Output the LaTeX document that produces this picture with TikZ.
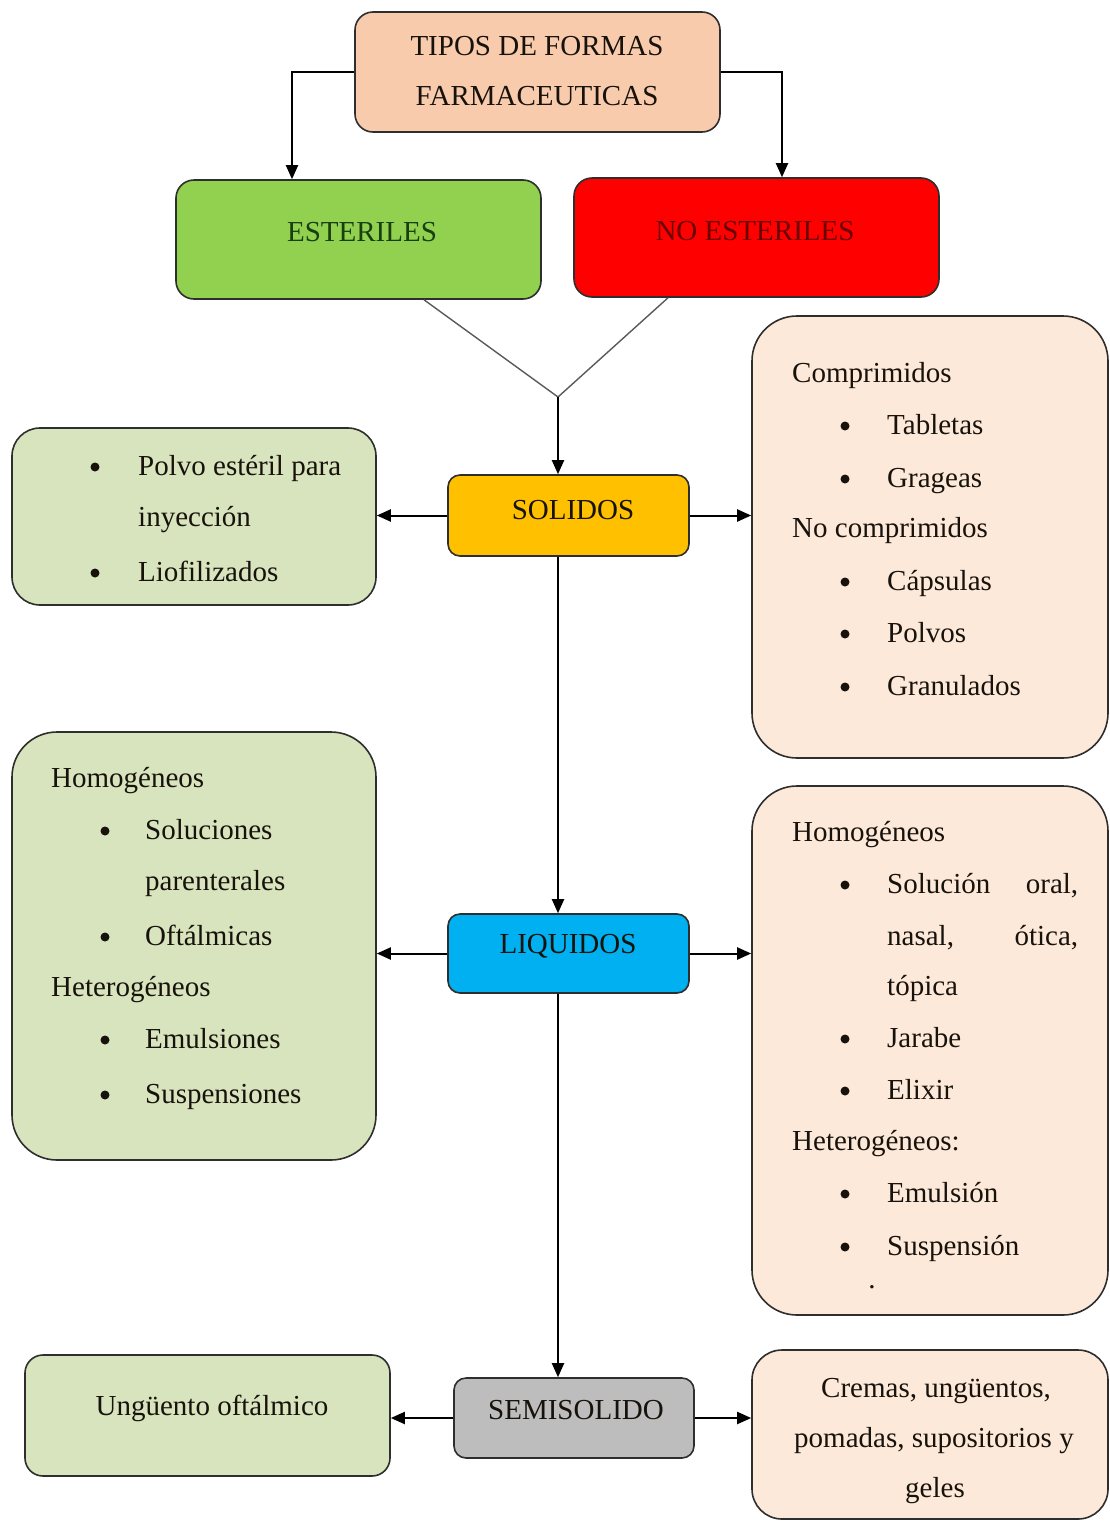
\documentclass[tikz,border=0pt]{standalone}
\usepackage{fontspec}
\setmainfont{Liberation Serif}
\usetikzlibrary{arrows.meta}
\definecolor{peach}{HTML}{F8CBAD}
\definecolor{grn}{HTML}{92D050}
\definecolor{rd}{HTML}{FF0000}
\definecolor{sol}{HTML}{FFC000}
\definecolor{liq}{HTML}{00B0F0}
\definecolor{semi}{HTML}{BDBDBD}
\definecolor{lgreen}{HTML}{D7E4BD}
\definecolor{lpeach}{HTML}{FDE9D9}
\definecolor{bord}{HTML}{2E2E2E}
\definecolor{ink}{HTML}{18120C}
\definecolor{dgreen}{HTML}{173F10}
\definecolor{dred}{HTML}{6A0000}
\newcommand\myfs{\fontsize{29}{50}\selectfont}
\begin{document}
\begin{tikzpicture}[x=1pt,y=-1pt,
  box/.style={draw=bord, line width=1.6pt, inner sep=0pt},
  txt/.style={inner sep=0pt, anchor=base west, font=\myfs, text=ink},
  ctxt/.style={inner sep=0pt, anchor=base, font=\myfs, text=ink},
  lbl/.style={inner sep=0pt, font=\myfs, text=ink, align=center},
  bul/.style={circle, fill=ink, inner sep=0pt, minimum size=9pt, yshift=8pt},
  arr/.style={line width=2pt, -{Triangle[length=14pt,width=12pt]}},
  vline/.style={line width=1.4pt, draw=black!65}]
\useasboundingbox (0,0) rectangle (1110,1521);

% top level
\node[box, fill=peach, rounded corners=18pt, minimum width=365pt, minimum height=120pt] (tipos) at (537.5,72) {};
\node[lbl] (tiposL) at (537,71) {TIPOS DE FORMAS\\FARMACEUTICAS};
\node[box, fill=grn, rounded corners=18pt, minimum width=365pt, minimum height=119pt] (est) at (358.5,239.5) {};
\node[lbl, text=dgreen] (estL) at (362,232) {ESTERILES};
\node[box, fill=rd, rounded corners=18pt, minimum width=365pt, minimum height=119pt] (noest) at (756.5,237.5) {};
\node[lbl, text=dred] (noestL) at (755,231) {NO ESTERILES};

\draw[arr] (tipos.west) -| ([xshift=-66.5pt]est.north);
\draw[arr] (tipos.east) -| ([xshift=25.5pt]noest.north);

\coordinate (vjoin) at (558,397);
\draw[vline] ([xshift=65.5pt]est.south) -- (vjoin) -- ([xshift=-88.5pt]noest.south);

% SOLIDOS
\node[box, fill=sol, rounded corners=12pt, minimum width=241pt, minimum height=81pt] (solidos) at (568.5,515.5) {};
\node[lbl] (solidosL) at (573,510) {SOLIDOS};
\draw[arr] (vjoin) -- (vjoin |- solidos.north);

\node[box, fill=lgreen, rounded corners=28pt, minimum width=364pt, minimum height=177pt] (lsol) at (194,516.5) {};
\node[bul] (b1) at (95,475) {};
\node[txt] (t1) at (138,475) {Polvo estéril para};
\node[txt] (t2) at (138,526) {inyección};
\node[bul] (b2) at (95,581) {};
\node[txt] (t3) at (138,581) {Liofilizados};

\node[box, fill=lpeach, rounded corners=45pt, minimum width=356pt, minimum height=442pt] (rsol) at (930,537) {};
\node[txt] (h1) at (792,382) {Comprimidos};
\node[bul] (b3) at (845,434) {};
\node[txt] (t4) at (887,434) {Tabletas};
\node[bul] (b4) at (845,487) {};
\node[txt] (t5) at (887,487) {Grageas};
\node[txt] (h2) at (792,537) {No comprimidos};
\node[bul] (b5) at (845,590) {};
\node[txt] (t6) at (887,590) {Cápsulas};
\node[bul] (b6) at (845,642) {};
\node[txt] (t7) at (887,642) {Polvos};
\node[bul] (b7) at (845,695) {};
\node[txt] (t8) at (887,695) {Granulados};

\draw[arr] (solidos.west) -- (solidos.west -| lsol.east);
\draw[arr] (solidos.east) -- (solidos.east -| rsol.west);

% LIQUIDOS
\node[box, fill=liq, rounded corners=12pt, minimum width=241pt, minimum height=79pt] (liquidos) at (568.5,953.5) {};
\node[lbl] (liquidosL) at (568,946) {LIQUIDOS};
\draw[arr] (vjoin |- solidos.south) -- (vjoin |- liquidos.north);

\node[box, fill=lgreen, rounded corners=45pt, minimum width=364pt, minimum height=428pt] (lliq) at (194,946) {};
\node[txt] (h3) at (51,787) {Homogéneos};
\node[bul] (b8) at (105,839) {};
\node[txt] (t9) at (145,839) {Soluciones};
\node[txt] (t10) at (145,890) {parenterales};
\node[bul] (b9) at (105,945) {};
\node[txt] (t11) at (145,945) {Oftálmicas};
\node[txt] (h4) at (51,996) {Heterogéneos};
\node[bul] (b10) at (105,1048) {};
\node[txt] (t12) at (145,1048) {Emulsiones};
\node[bul] (b11) at (105,1103) {};
\node[txt] (t13) at (145,1103) {Suspensiones};

\node[box, fill=lpeach, rounded corners=45pt, minimum width=356pt, minimum height=529pt] (rliq) at (930,1050.5) {};
\node[txt] (h5) at (792,841) {Homogéneos};
\node[bul] (b12) at (845,893) {};
\node[txt] (t14) at (887,893) {\hbox to 191pt{Solución\hfill oral,}};
\node[txt] (t15) at (887,945) {\hbox to 191pt{nasal,\hfill ótica,}};
\node[txt] (t16) at (887,995) {tópica};
\node[bul] (b13) at (845,1047) {};
\node[txt] (t17) at (887,1047) {Jarabe};
\node[bul] (b14) at (845,1099) {};
\node[txt] (t18) at (887,1099) {Elixir};
\node[txt] (h6) at (792,1150) {Heterogéneos:};
\node[bul] (b15) at (845,1202) {};
\node[txt] (t19) at (887,1202) {Emulsión};
\node[bul] (b16) at (845,1255) {};
\node[txt] (t20) at (887,1255) {Suspensión};
\node[ctxt] (dot) at (872,1288) {.};

\draw[arr] (liquidos.west) -- (liquidos.west -| lliq.east);
\draw[arr] (liquidos.east) -- (liquidos.east -| rliq.west);

% SEMISOLIDO
\node[box, fill=semi, rounded corners=12pt, minimum width=240pt, minimum height=80pt] (semis) at (574,1418) {};
\node[lbl] (semisL) at (576,1410) {SEMISOLIDO};
\draw[arr] (vjoin |- liquidos.south) -- (vjoin |- semis.north);

\node[box, fill=lgreen, rounded corners=18pt, minimum width=365pt, minimum height=121pt] (lsemi) at (207.5,1415.5) {};
\node[lbl] (lsemiL) at (212,1408) {Ungüento oftálmico};

\node[box, fill=lpeach, rounded corners=30pt, minimum width=356pt, minimum height=169pt] (rsemi) at (930,1434.5) {};
\node[ctxt] (s1) at (936,1397) {Cremas, ungüentos,};
\node[ctxt] (s2) at (934,1447) {pomadas, supositorios y};
\node[ctxt] (s3) at (935,1497) {geles};

\draw[arr] (semis.west) -- (semis.west -| lsemi.east);
\draw[arr] (semis.east) -- (semis.east -| rsemi.west);
\end{tikzpicture}
\end{document}
